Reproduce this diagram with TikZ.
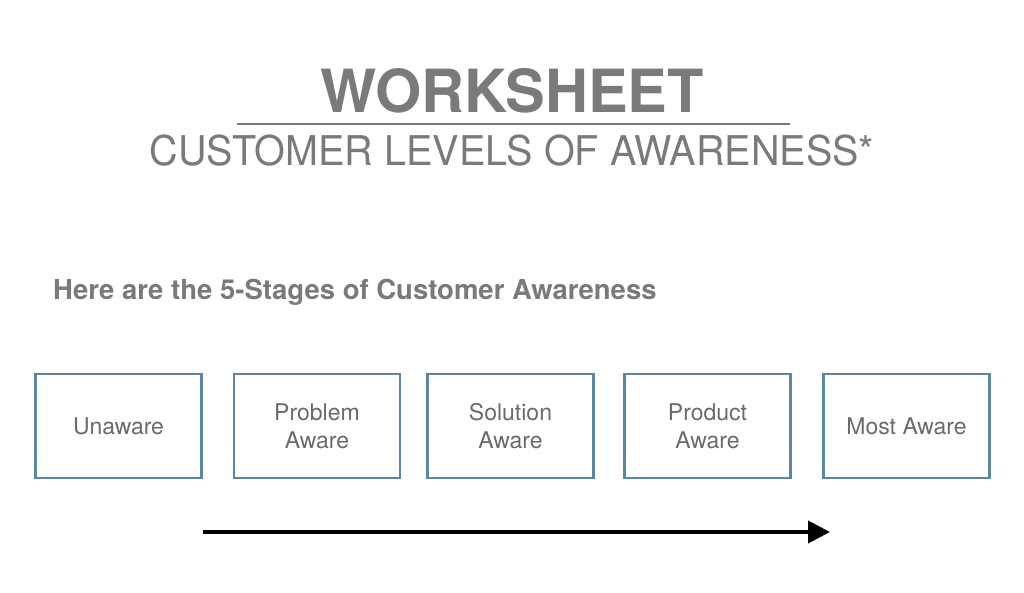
\documentclass[tikz,border=0pt]{standalone}
\usepackage{fontspec}
\setmainfont{TeX Gyre Heros}
\newfontfamily\subfont[FakeStretch=0.965]{TeX Gyre Heros}
\usetikzlibrary{positioning,arrows.meta}
\definecolor{titlegray}{HTML}{7A7A7A}
\definecolor{textgray}{HTML}{6A6A6A}
\definecolor{stageblue}{HTML}{5B87A2}

\begin{document}
\begin{tikzpicture}[x=1pt,y=-1pt,
    stage/.style={draw=stageblue,line width=2.5pt,minimum width=166pt,minimum height=104pt,
        align=center,text=textgray,font=\fontsize{23}{28}\selectfont}]
    \useasboundingbox (0,0) rectangle (1024,593);
    % title block
    \node [anchor=base,text=titlegray,font=\bfseries\fontsize{59.5}{60}\selectfont,inner sep=0pt] (Title) at (512,113) {WORKSHEET};
    \coordinate (ruleL) at (237,124);
    \coordinate (ruleR) at (790,124);
    \draw [titlegray,line width=2pt] (ruleL) -- (ruleR);
    \node [anchor=base,text=titlegray,font=\subfont\fontsize{41}{42}\selectfont,inner sep=0pt] (Sub) at (512,166) {CUSTOMER LEVELS OF AWARENESS*};
    \node [anchor=base west,text=titlegray,font=\bfseries\fontsize{27.5}{30}\selectfont,inner sep=0pt] (Intro) at (53,299) {Here are the 5-Stages of Customer Awareness};

    % the five stages
    \node [stage] (Unaware) at (118.5,426) {Unaware};
    \node [stage] (Problem) at (317,426) {Problem\\Aware};
    \node [stage] (Solution) at (510.5,426) {Solution\\Aware};
    \node [stage] (Product) at (707.5,426) {Product\\Aware};
    \node [stage] (Most) at (906.5,426) {Most Aware};

    \coordinate (arrowL) at (203,532);
    \coordinate (arrowR) at (830,532);
    \draw [-{Triangle[length=22pt,width=22pt]}, line width=4pt] (arrowL) -- (arrowR);
\end{tikzpicture}
\end{document}
